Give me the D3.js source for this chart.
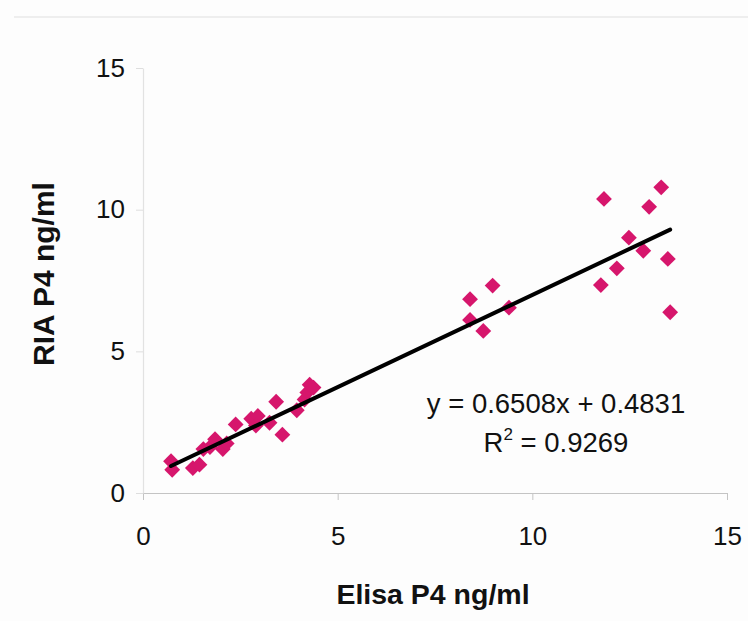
<!DOCTYPE html>
<html>
<head>
<meta charset="utf-8">
<script src="https://cdn.jsdelivr.net/npm/d3@7"></script>
<style>
  html, body { margin: 0; padding: 0; background: #fdfdfd; }
  svg { display: block; font-family: "Liberation Sans", Arial, sans-serif; }
</style>
</head>
<body>
<svg id="chart" width="748" height="621"></svg>
<script>
// Elisa vs RIA progesterone measurements (ng/ml)
const elisa = [0.72, 0.75, 1.28, 1.45, 1.55, 1.72, 1.85, 2.05, 2.15, 2.38, 2.78, 2.95, 2.9, 3.25, 3.42, 3.58, 3.95, 4.15, 4.22, 4.28, 4.38,
               8.40, 8.40, 8.74, 8.98, 9.40,
               11.76, 11.84, 12.17, 12.48, 12.85, 13.0, 13.31, 13.48, 13.54];
const ria   = [1.12, 0.82, 0.88, 1.0, 1.55, 1.62, 1.9, 1.55, 1.75, 2.42, 2.62, 2.72, 2.38, 2.48, 3.22, 2.06, 2.92, 3.3, 3.55, 3.82, 3.72,
               6.84, 6.11, 5.72, 7.32, 6.54,
               7.34, 10.38, 7.93, 9.01, 8.55, 10.1, 10.79, 8.26, 6.38];
const xTicks = [0, 5, 10, 15];
const yTicks = [0, 5, 10, 15];
const slope = 0.6508, intercept = 0.4831, r2 = 0.9269;
const fitRange = [0.72, 13.54];

const svg = d3.select("#chart");

// faint frame line across the top
svg.append("line").attr("x1", 14).attr("x2", 748).attr("y1", 17).attr("y2", 17)
  .attr("stroke", "#e8e8e8").attr("stroke-width", 1.5);

const x = d3.scaleLinear().domain([0, 15]).range([143, 727]);
const y = d3.scaleLinear().domain([0, 15]).range([493, 68]);

// x axis
const xAxis = svg.append("g").attr("transform", `translate(0,${y(0)})`)
  .call(d3.axisBottom(x).tickValues(xTicks).tickSize(7).tickPadding(27).tickSizeOuter(0));
xAxis.select(".domain").attr("stroke", "#c4c4c4").attr("stroke-width", 1.2);
xAxis.selectAll(".tick line").attr("stroke", "#c4c4c4");
xAxis.selectAll("text").attr("font-size", 26).attr("fill", "#111").attr("font-family", "Liberation Sans, Arial, sans-serif");

// y axis
const yAxis = svg.append("g").attr("transform", `translate(${x(0)},0)`)
  .call(d3.axisLeft(y).tickValues(yTicks).tickSize(7).tickPadding(11).tickSizeOuter(0));
yAxis.select(".domain").attr("stroke", "#e2e2e2").attr("stroke-width", 1.2);
yAxis.selectAll(".tick line").attr("stroke", "#dedede");
yAxis.selectAll("text").attr("font-size", 26).attr("fill", "#111").attr("font-family", "Liberation Sans, Arial, sans-serif");

// data points as diamonds
const diamond = d3.symbol().type(d3.symbolSquare).size(125);
svg.append("g").selectAll("path")
  .data(elisa.map((e, i) => [e, ria[i]]))
  .join("path")
  .attr("d", diamond)
  .attr("transform", d => `translate(${x(d[0])},${y(d[1])}) rotate(45)`)
  .attr("fill", "#d6166c");

// linear trend line
svg.append("line")
  .attr("x1", x(fitRange[0])).attr("y1", y(slope * fitRange[0] + intercept))
  .attr("x2", x(fitRange[1])).attr("y2", y(slope * fitRange[1] + intercept))
  .attr("stroke", "#000").attr("stroke-width", 4).attr("stroke-linecap", "round");

// equation and R²
const eq = svg.append("g").attr("font-size", 27.5).attr("fill", "#111").attr("text-anchor", "middle");
eq.append("text").attr("x", 556).attr("y", 413)
  .text(`y = ${slope.toFixed(4)}x + ${intercept.toFixed(4)}`);
const r = eq.append("text").attr("x", 556).attr("y", 452);
r.append("tspan").text("R");
r.append("tspan").attr("font-size", 17).attr("dy", -12).text("2");
r.append("tspan").attr("dy", 12).text(` = ${r2.toFixed(4)}`);

// axis titles
svg.append("text").attr("x", 433).attr("y", 604).attr("text-anchor", "middle")
  .attr("font-size", 28.5).attr("font-weight", "bold").attr("fill", "#111")
  .text("Elisa P4 ng/ml");
svg.append("text").attr("transform", "translate(54,274) rotate(-90)").attr("text-anchor", "middle")
  .attr("font-size", 30).attr("font-weight", "bold").attr("fill", "#111")
  .text("RIA P4 ng/ml");
</script>
</body>
</html>
